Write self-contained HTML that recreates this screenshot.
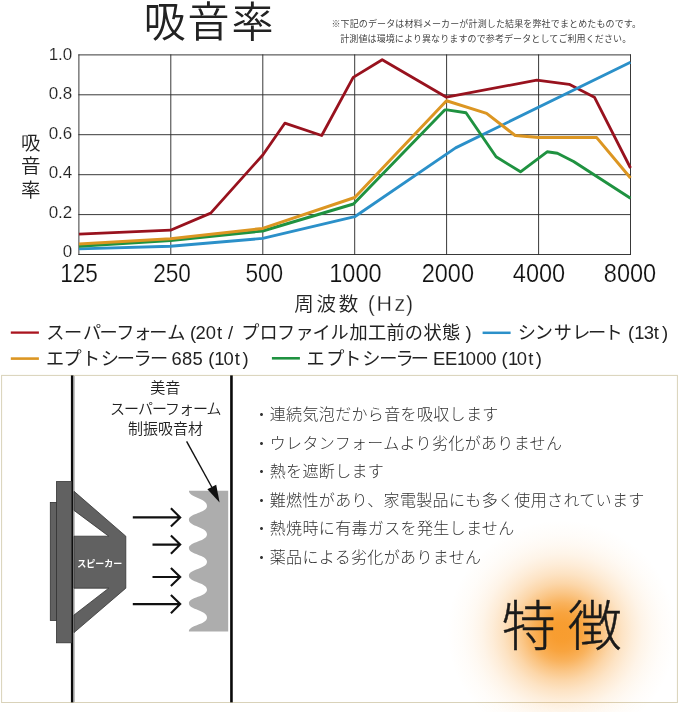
<!DOCTYPE html>
<html lang="ja">
<head>
<meta charset="utf-8">
<title>吸音率</title>
<style>
html,body{margin:0;padding:0;background:#fff;}
body{width:679px;height:712px;overflow:hidden;position:relative;
  font-family:"Liberation Sans","Noto Sans CJK JP",sans-serif;}
svg{display:block;position:absolute;left:0;top:0;will-change:transform;}
svg text{font-family:"Liberation Sans","Noto Sans CJK JP",sans-serif;fill:#222;font-weight:300;}
.grid line{stroke:#2e2e2e;stroke-width:0.95;}
.series polyline{fill:none;stroke-linejoin:round;stroke-linecap:butt;}
.ylab text{font-size:17px;fill:#222;text-anchor:end;stroke:#fff;stroke-width:0.15px;}
.xlab text{font-size:26px;text-anchor:middle;fill:#111;stroke:#fff;stroke-width:0.22px;}
.legend text{font-size:18.2px;font-weight:400;}
.legend .la{font-size:18.4px;}
.bul text{font-size:16px;letter-spacing:0.35px;fill:#333;}
.note text{font-size:9px;fill:#444;font-weight:400;}
.vlab text{font-weight:350;}
.lbl text{font-size:15px;text-anchor:middle;fill:#222;font-weight:350;}
</style>
</head>
<body>
<svg width="679" height="712" viewBox="0 0 679 712">
<defs>
  <radialGradient id="glow" cx="0.5" cy="0.5" r="0.5">
    <stop offset="0.000" stop-color="#f7941d" stop-opacity="0.920"/>
    <stop offset="0.087" stop-color="#f7941d" stop-opacity="0.910"/>
    <stop offset="0.174" stop-color="#f7941d" stop-opacity="0.850"/>
    <stop offset="0.261" stop-color="#f7941d" stop-opacity="0.720"/>
    <stop offset="0.348" stop-color="#f7941d" stop-opacity="0.540"/>
    <stop offset="0.435" stop-color="#f7941d" stop-opacity="0.380"/>
    <stop offset="0.522" stop-color="#f7941d" stop-opacity="0.260"/>
    <stop offset="0.609" stop-color="#f7941d" stop-opacity="0.170"/>
    <stop offset="0.696" stop-color="#f7941d" stop-opacity="0.100"/>
    <stop offset="0.783" stop-color="#f7941d" stop-opacity="0.055"/>
    <stop offset="0.870" stop-color="#f7941d" stop-opacity="0.025"/>
    <stop offset="0.957" stop-color="#f7941d" stop-opacity="0.008"/>
    <stop offset="1.000" stop-color="#f7941d" stop-opacity="0.000"/>
  </radialGradient>
</defs>

<!-- ===== title ===== -->
<text x="143.8" y="37" font-size="42" letter-spacing="1.8" style="font-weight:350">吸音率</text>

<!-- ===== note ===== -->
<g class="note">
<text x="331.4" y="26.5" letter-spacing="0.14">※下記のデータは材料メーカーが計測した結果を弊社でまとめたものです。</text>
<text x="340.2" y="42.2" letter-spacing="0.11">計測値は環境により異なりますので参考データとしてご利用ください。</text>
</g>

<!-- ===== chart grid ===== -->
<g class="grid">
<line x1="78.4" y1="54.9" x2="631" y2="54.9"/>
<line x1="78.4" y1="94.8" x2="631" y2="94.8"/>
<line x1="78.4" y1="134.7" x2="631" y2="134.7"/>
<line x1="78.4" y1="174.7" x2="631" y2="174.7"/>
<line x1="78.4" y1="214.6" x2="631" y2="214.6"/>
<line x1="78.4" y1="254.5" x2="631" y2="254.5"/>
<line x1="78.9" y1="54.4" x2="78.9" y2="255"/>
<line x1="170.8" y1="54.4" x2="170.8" y2="255"/>
<line x1="262.8" y1="54.4" x2="262.8" y2="255"/>
<line x1="354.7" y1="54.4" x2="354.7" y2="255"/>
<line x1="446.6" y1="54.4" x2="446.6" y2="255"/>
<line x1="538.6" y1="54.4" x2="538.6" y2="255"/>
<line x1="630.5" y1="54.4" x2="630.5" y2="255"/>
</g>

<!-- ===== series ===== -->
<g class="series">
<polyline stroke="#98121e" stroke-width="2.8" points="79,234.2 170.5,230.2 210.7,213.1 263,154.7 284.8,123.2 321.7,135.5 353.2,77.4 382.2,59.7 446.5,97.2 536.8,80.1 569.2,84.3 594.4,97.2 630.5,168"/>
<polyline stroke="#2b90c9" stroke-width="2.9" points="79,248.9 170.5,246.2 262.7,238.4 354.7,216.7 455.6,147.9 630.5,62.2"/>
<polyline stroke="#1f9240" stroke-width="2.9" points="79,246.3 170.5,240.5 262.7,231 353.5,204 444.7,109.9 447,109.9 466,112.8 496.1,156.8 520.5,171.8 547.1,151.8 557.4,153.2 573.6,161.5 630.5,198.3"/>
<polyline stroke="#dc9622" stroke-width="3" points="79,244.1 170.5,238.8 262.7,228.4 354.7,197.5 446.5,100.7 486.6,113.4 515.2,135.5 538.8,137.6 596.7,137.6 630.5,178"/>
</g>

<!-- ===== axis labels ===== -->
<g class="ylab">
<text x="72.3" y="59.5">1.0</text>
<text x="72.3" y="99.1">0.8</text>
<text x="72.3" y="138.6">0.6</text>
<text x="72.3" y="178.1">0.4</text>
<text x="72.3" y="217.7">0.2</text>
<text x="72.3" y="257.2">0</text>
</g>
<g class="vlab" font-size="19.5" text-anchor="middle">
<text x="30.8" y="149.9">吸</text>
<text x="30.8" y="173.2">音</text>
<text x="30.8" y="196.5">率</text>
</g>
<g class="xlab">
<text transform="matrix(0.87 0 0 1 79.0 0)" x="0" y="281.6">125</text>
<text transform="matrix(0.87 0 0 1 172 0)" x="0" y="281.6">250</text>
<text transform="matrix(0.87 0 0 1 264.3 0)" x="0" y="281.6">500</text>
<text transform="matrix(0.905 0 0 1 355.4 0)" x="0" y="281.6">1000</text>
<text transform="matrix(0.905 0 0 1 447.8 0)" x="0" y="281.6">2000</text>
<text transform="matrix(0.905 0 0 1 539 0)" x="0" y="281.6">4000</text>
<text transform="matrix(0.905 0 0 1 630 0)" x="0" y="281.6">8000</text>
</g>
<text x="294.3" y="310.8" font-size="19.5" letter-spacing="2.7" style="font-weight:350">周波数</text>
<text x="367.8 376.4 394.4 406" y="310.8" font-size="21.4" style="stroke:#fff;stroke-width:0.3px">(Hz)</text>

<!-- ===== legend ===== -->
<g class="legend">
<line x1="10.8" y1="332.6" x2="38.9" y2="332.6" stroke="#aa141f" stroke-width="2.3"/>
<text x="46.3 64.1 83.0 99.4 116.2 133.4 149.3 167.3 188.5 190.0 195.6 205.7 216.9 225.0 228.1 236.2 241.2 259.4 277.0 295.4 312.6 330.6 349.5 368.0 386.6 404.7 423.6 441.9 463.1 465.4" y="338.8">スーパーフォーム<tspan class="la"> (20t / </tspan>プロファイル加工前の状態<tspan class="la"> )</tspan></text>
<line x1="482.6" y1="332.8" x2="510.6" y2="332.8" stroke="#2b90c9" stroke-width="2.5"/>
<text x="517.7 534.8 553.7 572.3 587.9 604.4 625.6 628.0 634.3 643.8 653.8 662.1" y="338.8">シンサレート<tspan class="la"> (13t)</tspan></text>
<line x1="10.8" y1="358.6" x2="38.9" y2="358.6" stroke="#dc9622" stroke-width="2.6"/>
<text x="46.0 63.6 82.1 100.8 116.8 133.6 150.0 171.2 171.6 182.0 192.4 205.6 208.2 214.3 223.4 234.8 242.4" y="365.4">エプトシーラー<tspan class="la"> 685 (10t)</tspan></text>
<line x1="271.9" y1="358.3" x2="299.9" y2="358.3" stroke="#1f9240" stroke-width="2.6"/>
<text x="306.6 326.3 343.3 362.2 379.3 395.5 410.8 432.0 432.9 445.0 457.1 465.8 476.2 486.3 499.5 501.6 507.9 516.7 528.2 535.7" y="365.4">エプトシーラー<tspan class="la"> EE1000 (10t)</tspan></text>
</g>

<!-- ===== bottom panel ===== -->
<rect x="1.6" y="375.4" width="675.8" height="327.1" fill="#fff" stroke="#d9d2b9" stroke-width="1"/>
<ellipse cx="562.0" cy="632.0" rx="115.0" ry="112.0" fill="url(#glow)"/>

<!-- walls -->
<rect x="70.9" y="375.4" width="2.5" height="327" fill="#0a0a0a"/>
<rect x="73.4" y="375.9" width="1.2" height="326.2" fill="#9a9a9a"/>
<rect x="230.15" y="375.4" width="2.6" height="327" fill="#0a0a0a"/>

<!-- speaker -->
<g fill="#616161" stroke="#333" stroke-width="0.8">
<rect x="50.3" y="502.4" width="6.5" height="118"/>
<rect x="56.5" y="481.6" width="15.2" height="161.2"/>
<path d="M74,491.3 L125.8,536.2 L125.8,588.2 L74,632.6 L74,615 L108.7,588.2 L74,588.2 L74,536.2 L108.7,536.2 L74,510.4 Z"/>
</g>
<text x="99.8" y="567" font-size="9" text-anchor="middle" style="fill:#fff;font-weight:700">スピーカー</text>

<!-- arrows -->
<g fill="none" stroke="#111" stroke-width="2.1" stroke-linejoin="miter">
<path d="M132.8,517.4 H179.8 M170.9,508.3 L180.2,517.4 L170.9,526.5"/>
<path d="M152.5,544.6 H179.8 M170.9,535.5 L180.2,544.6 L170.9,553.7"/>
<path d="M152.5,577.0 H179.8 M170.9,567.9 L180.2,577.0 L170.9,586.1"/>
<path d="M132.8,604.1 H179.8 M170.9,595.0 L180.2,604.1 L170.9,613.2"/>
</g>

<!-- foam -->
<path fill="#adadad" d="M228.2,490.8 H188.9 C188.9,497.9 207.0,498.1 207.0,506.0 C207.0,513.1 188.9,513.3 188.9,519.7 C188.9,526.6 207.0,526.7 207.0,534.3 C207.0,541.6 188.9,541.7 188.9,548.3 C188.9,554.6 207.0,554.8 207.0,561.8 C207.0,569.0 188.9,569.2 188.9,575.7 C188.9,582.3 207.0,582.4 207.0,589.7 C207.0,596.8 188.9,596.9 188.9,603.3 C188.9,609.9 207.0,610.1 207.0,617.4 C207.0,624.7 188.9,624.8 188.9,631.4 H228.2 Z"/>

<!-- pointer -->
<line x1="186.6" y1="441.4" x2="212" y2="487.5" stroke="#111" stroke-width="1.4"/>
<path d="M219.6,502.6 L207.4,489.3 L216.2,484.8 Z" fill="#111"/>

<!-- label -->
<g class="lbl">
<text x="165.2" y="393.2">美音</text>
<text x="165.3" y="413.6" letter-spacing="-1">スーパーフォーム</text>
<text x="165.4" y="434.3">制振吸音材</text>
</g>

<!-- bullets -->
<g class="bul">
<text x="253.4" y="419.9">・連続気泡だから音を吸収します</text>
<text x="253.4" y="448.5">・ウレタンフォームより劣化がありません</text>
<text x="253.4" y="477.1">・熱を遮断します</text>
<text x="253.4" y="505.8">・難燃性があり、家電製品にも多く使用されています</text>
<text x="253.4" y="534.4">・熱焼時に有毒ガスを発生しません</text>
<text x="253.4" y="563.0">・薬品による劣化がありません</text>
</g>

<!-- 特徴 -->
<text x="501.8" y="646.4" font-size="54" letter-spacing="12" style="font-weight:300;fill:#1a1a1a;stroke:#1a1a1a;stroke-width:0.45px">特徴</text>
</svg>
</body>
</html>
